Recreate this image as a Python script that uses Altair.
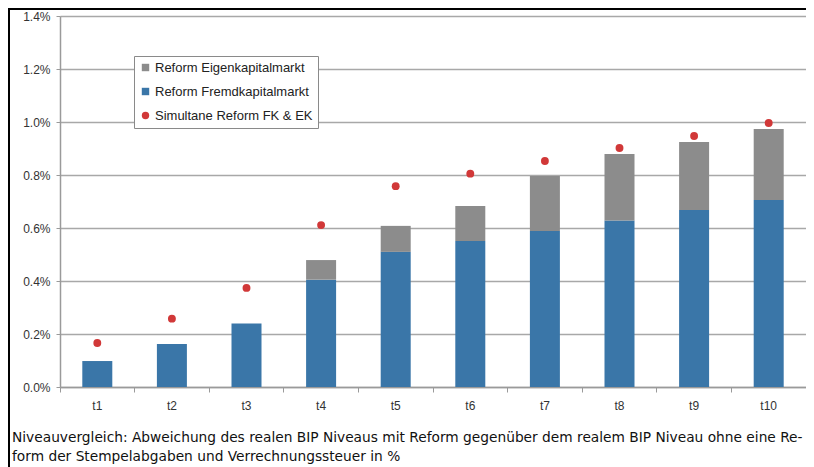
import altair as alt
import pandas as pd

periods = ["t1", "t2", "t3", "t4", "t5", "t6", "t7", "t8", "t9", "t10"]
fremdkapital = [0.098, 0.162, 0.240, 0.405, 0.510, 0.551, 0.589, 0.628, 0.668, 0.706]
eigenkapital = [0.0, 0.0, 0.0, 0.074, 0.098, 0.132, 0.207, 0.251, 0.257, 0.268]
simultan = [0.166, 0.258, 0.374, 0.611, 0.758, 0.805, 0.853, 0.902, 0.947, 0.996]
y_ticks = [0.0, 0.2, 0.4, 0.6, 0.8, 1.0, 1.2, 1.4]

S_EK = "Reform Eigenkapitalmarkt"
S_FK = "Reform Fremdkapitalmarkt"
S_SIM = "Simultane Reform FK & EK"
series = [S_EK, S_FK, S_SIM]
colors = ["#8c8c8c", "#3a76a8", "#d13838"]
shapes = ["square", "square", "circle"]

caption_line1 = "Niveauvergleich: Abweichung des realen BIP Niveaus mit Reform gegenüber dem realem BIP Niveau ohne eine Re-"
caption_line2 = "form der Stempelabgaben und Verrechnungssteuer in %"

bars = pd.DataFrame(
    [{"period": p, "series": S_FK, "value": v, "ord": 0} for p, v in zip(periods, fremdkapital)]
    + [{"period": p, "series": S_EK, "value": v, "ord": 1} for p, v in zip(periods, eigenkapital)]
)
dots = pd.DataFrame({"period": periods, "series": S_SIM, "value": simultan})

FONT = "Liberation Sans"
CAP_FONT = "DejaVu Sans"

x_enc = alt.X(
    "period:N",
    sort=periods,
    scale=alt.Scale(paddingInner=0, paddingOuter=0),
    axis=alt.Axis(
        title=None, labelAngle=0, bandPosition=0, ticks=True, tickSize=5,
        tickColor="#9a9a9a", domainColor="#9a9a9a", domainWidth=1.5,
        labelFont=FONT, labelFontSize=12, labelColor="#333333", labelPadding=8,
        grid=False,
    ),
)
y_scale = alt.Scale(domain=[0, 1.4], nice=False)
y_axis = alt.Axis(
    title=None, values=y_ticks, labelExpr="format(datum.value, '.1f') + '%'",
    labelFont=FONT, labelFontSize=12, labelColor="#333333", labelPadding=6,
    grid=True, gridColor="#a8a8a8", gridWidth=1.5, domainColor="#9a9a9a",
    domainWidth=1.5, tickColor="#9a9a9a", tickSize=4,
)
legend = alt.Legend(
    title=None, orient="none", legendX=74, legendY=40,
    labelFont=FONT, labelFontSize=13, labelColor="#222222",
    symbolSize=55, symbolStrokeWidth=0,
    rowPadding=10, padding=5, fillColor="white", strokeColor="#8a8a8a",
    labelOffset=3,
)
color_scale = alt.Scale(domain=series, range=colors)

bar_layer = alt.Chart(bars).mark_bar(size=30).encode(
    x=x_enc,
    y=alt.Y("value:Q", stack="zero", scale=y_scale, axis=y_axis),
    color=alt.Color("series:N", scale=color_scale, legend=legend),
    order=alt.Order("ord:Q"),
)
dot_layer = alt.Chart(dots).mark_point(size=62, filled=True, opacity=1).encode(
    x=alt.X("period:N", sort=periods),
    y=alt.Y("value:Q", scale=y_scale),
    color=alt.Color("series:N", scale=color_scale, legend=legend),
    shape=alt.Shape("series:N", scale=alt.Scale(domain=series, range=shapes), legend=legend),
)

frame = pd.DataFrame({"k": [0]})
left_border = alt.Chart(frame).mark_rule(color="black", strokeWidth=2).encode(
    x=alt.value(-51), y=alt.value(-7), y2=alt.value(470)
)
top_border = alt.Chart(frame).mark_rule(color="black", strokeWidth=2).encode(
    x=alt.value(-52), x2=alt.value(760), y=alt.value(-7)
)
cap1 = alt.Chart(pd.DataFrame({"t": [caption_line1]})).mark_text(
    align="left", baseline="middle", font=CAP_FONT, fontSize=13.75, color="#111111"
).encode(text="t:N", x=alt.value(-48), y=alt.value(422))
cap2 = alt.Chart(pd.DataFrame({"t": [caption_line2]})).mark_text(
    align="left", baseline="middle", font=CAP_FONT, fontSize=13.75, color="#111111"
).encode(text="t:N", x=alt.value(-48), y=alt.value(441))

chart = (
    alt.layer(bar_layer, dot_layer, left_border, top_border, cap1, cap2)
    .properties(
        width=746,
        height=371,
        autosize=alt.AutoSizeParams(type="none"),
        padding={"left": 52, "top": 8, "right": 0, "bottom": 80},
    )
    .configure_view(strokeWidth=0)
)

chart.save("out.html", embed_options={"renderer": "svg", "actions": False})
